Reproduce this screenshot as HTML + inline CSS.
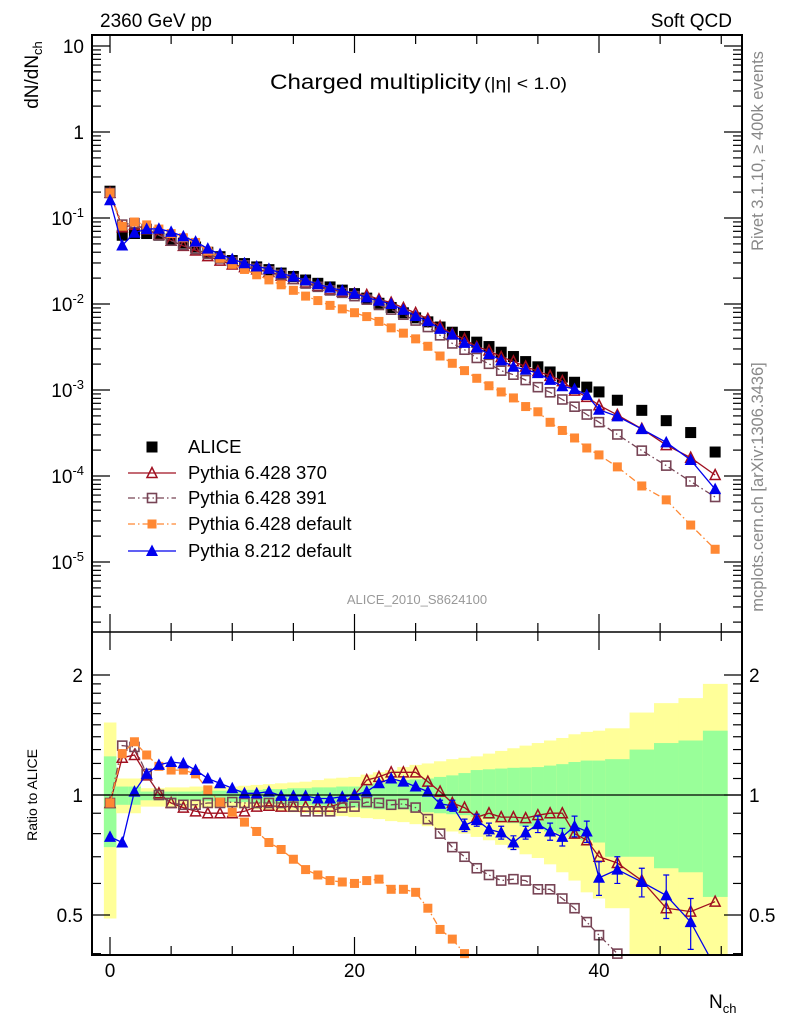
<!DOCTYPE html>
<html><head><meta charset="utf-8"><style>
html,body{margin:0;padding:0;background:#fff;width:786px;height:1024px;overflow:hidden;}
svg{display:block;font-family:"Liberation Sans",sans-serif;}
</style></head><body>
<svg id="chart" width="786" height="1024" viewBox="0 0 786 1024" xmlns="http://www.w3.org/2000/svg">
<g id="bands"></g>
<g id="marks"></g>
<g id="axes"></g>
<text x="100" y="27" font-size="19">2360 GeV pp</text>
<text x="732" y="27" font-size="19" text-anchor="end">Soft QCD</text>
<text x="270" y="89" font-size="21" textLength="211" lengthAdjust="spacingAndGlyphs">Charged multiplicity</text>
<text x="484" y="89" font-size="17" textLength="83" lengthAdjust="spacingAndGlyphs">(|η| &lt; 1.0)</text>
<text transform="translate(38,75) rotate(-90)" font-size="19" text-anchor="middle">dN/dN<tspan font-size="13" dy="4">ch</tspan></text>
<text transform="translate(37,795) rotate(-90)" font-size="14" text-anchor="middle">Ratio to ALICE</text>
<text x="709" y="1008" font-size="19">N<tspan font-size="13" dy="5">ch</tspan></text>
<text transform="translate(763,151) rotate(-90)" font-size="16.5" fill="#888" text-anchor="middle">Rivet 3.1.10, ≥ 400k events</text>
<text transform="translate(763,487) rotate(-90)" font-size="16.5" fill="#888" text-anchor="middle">mcplots.cern.ch [arXiv:1306.3436]</text>
<text x="417" y="604" font-size="13" fill="#999" text-anchor="middle">ALICE_2010_S8624100</text>
<g id="legend"></g>
</svg>
<script>
const nVals=[0,1,2,3,4,5,6,7,8,9,10,11,12,13,14,15,16,17,18,19,20,21,22,23,24,25,26,27,28,29,30,31,32,33,34,35,36,37,38,39,40,41.5,43.5,45.5,47.5,49.5];
const binWidth=[1,1,1,1,1,1,1,1,1,1,1,1,1,1,1,1,1,1,1,1,1,1,1,1,1,1,1,1,1,1,1,1,1,1,1,1,1,1,1,1,1,2,2,2,2,2];
const alice=[0.205,0.063,0.066,0.066,0.063,0.057,0.051,0.046,0.040,0.0355,0.032,0.0295,0.027,0.0251,0.0229,0.0209,0.019,0.0174,0.0158,0.0145,0.0132,0.0117,0.0102,0.0091,0.0079,0.0069,0.0062,0.0054,0.0047,0.0042,0.0036,0.0032,0.00275,0.00245,0.00214,0.00186,0.00162,0.00141,0.00123,0.00108,0.00095,0.00076,0.00058,0.00044,0.00032,0.00019];
const ratio370=[0.955,1.24,1.26,1.12,1.01,0.955,0.93,0.91,0.90,0.90,0.90,0.91,0.935,0.94,0.935,0.935,0.935,0.935,0.935,0.955,1.0,1.09,1.11,1.14,1.14,1.14,1.08,1.02,0.955,0.93,0.88,0.90,0.88,0.88,0.875,0.89,0.90,0.90,0.80,0.77,0.70,0.675,0.61,0.52,0.51,0.54];
const ratio391=[0.955,1.33,1.32,1.13,1.0,0.955,0.945,0.945,0.955,0.955,0.96,0.955,0.955,0.955,0.955,0.935,0.91,0.91,0.91,0.93,0.935,0.96,0.955,0.945,0.95,0.93,0.87,0.80,0.74,0.70,0.655,0.63,0.61,0.615,0.61,0.58,0.58,0.55,0.52,0.48,0.445,0.40,0.34,0.30,0.27,0.30];
const ratioDef=[0.955,1.27,1.36,1.26,1.18,1.155,1.155,1.13,1.03,0.96,0.905,0.855,0.81,0.76,0.73,0.69,0.65,0.63,0.61,0.605,0.60,0.61,0.615,0.58,0.58,0.57,0.52,0.46,0.435,0.40,0.38,0.35,0.345,0.33,0.30,0.30,0.26,0.24,0.225,0.196,0.185,0.168,0.132,0.12,0.084,0.074];
const ratioP8=[0.785,0.76,1.02,1.13,1.19,1.21,1.20,1.155,1.10,1.07,1.04,1.01,1.01,1.02,0.995,0.995,0.995,0.98,0.98,0.99,1.0,1.02,1.07,1.10,1.08,1.05,1.02,0.95,0.94,0.84,0.865,0.82,0.805,0.76,0.805,0.845,0.81,0.785,0.835,0.81,0.62,0.65,0.605,0.56,0.48,0.37];
const errP8=[0,0,0,0,0,0,0,0,0,0,0,0,0,0,0,0,0,0,0,0,0,0,0,0,0,0,0,0.02,0.03,0.03,0.03,0.03,0.03,0.03,0.03,0.04,0.04,0.04,0.05,0.05,0.06,0.05,0.05,0.07,0.07,0.08];
const yelUp=[1.52,1.10,1.10,1.04,1.04,1.045,1.045,1.05,1.05,1.05,1.05,1.055,1.06,1.065,1.07,1.075,1.08,1.09,1.10,1.105,1.11,1.125,1.14,1.155,1.175,1.19,1.20,1.215,1.23,1.24,1.25,1.27,1.29,1.31,1.33,1.35,1.37,1.39,1.42,1.44,1.45,1.47,1.61,1.70,1.75,1.90];
const yelDn=[0.49,0.90,0.90,0.935,0.935,0.93,0.93,0.93,0.93,0.93,0.93,0.925,0.92,0.915,0.91,0.905,0.90,0.895,0.89,0.885,0.88,0.875,0.87,0.86,0.855,0.845,0.835,0.82,0.81,0.80,0.785,0.77,0.75,0.73,0.71,0.695,0.67,0.64,0.61,0.57,0.55,0.52,0.38,0.38,0.38,0.38];
const grnUp=[1.25,1.05,1.05,1.02,1.02,1.02,1.02,1.02,1.025,1.025,1.025,1.03,1.03,1.035,1.035,1.04,1.04,1.045,1.045,1.05,1.05,1.06,1.07,1.08,1.09,1.095,1.10,1.11,1.12,1.135,1.155,1.16,1.165,1.17,1.172,1.175,1.185,1.195,1.21,1.22,1.22,1.23,1.30,1.35,1.37,1.45];
const grnDn=[0.74,0.945,0.945,0.97,0.97,0.97,0.97,0.97,0.965,0.965,0.96,0.96,0.955,0.955,0.95,0.945,0.945,0.94,0.935,0.93,0.93,0.925,0.92,0.92,0.92,0.91,0.905,0.90,0.895,0.89,0.88,0.87,0.86,0.85,0.835,0.82,0.81,0.80,0.785,0.77,0.76,0.70,0.70,0.655,0.64,0.555];
const mainTickLabels=["10","1","10^-1","10^-2","10^-3","10^-4","10^-5"];
const xTickLabels=["0","20","40"];
const ratioTickLabels=["2","1","0.5"];

const NS="http://www.w3.org/2000/svg";
const L=92,R=742,T=35,MB=632,RB=955;
const X=n=>110+n*12.225;
const Ym=v=>46+(1-Math.log10(v))*86;
const Yr=r=>795-Math.log2(r)*120;
function mk(tag,attrs,parent){const e=document.createElementNS(NS,tag);for(const k in attrs)e.setAttribute(k,attrs[k]);parent.appendChild(e);return e;}
// clip a polyline to a vertical range, returning list of point strings
function clipPoly(pts,ymin,ymax){
  const out=[];let cur=[];
  const push=p=>cur.push(p[0].toFixed(1)+','+p[1].toFixed(1));
  const inside=p=>p[1]>=ymin&&p[1]<=ymax;
  for(let i=0;i<pts.length-1;i++){
    let a=pts[i],b=pts[i+1];
    const lim=y=>y>ymax?ymax:(y<ymin?ymin:y);
    let ia=inside(a),ib=inside(b);
    if(!ia&&!ib&&((a[1]>ymax&&b[1]>ymax)||(a[1]<ymin&&b[1]<ymin))){if(cur.length>1)out.push(cur.join(' '));cur=[];continue;}
    const itp=(p,q,y)=>[p[0]+(q[0]-p[0])*(y-p[1])/(q[1]-p[1]),y];
    let A=ia?a:itp(a,b,lim(a[1])),B=ib?b:itp(a,b,lim(b[1]));
    if(cur.length===0)push(A);
    push(B);
    if(!ib){out.push(cur.join(' '));cur=[];}
  }
  if(cur.length>1)out.push(cur.join(' '));
  return out;
}
const bands=document.getElementById('bands'),marks=document.getElementById('marks'),axes=document.getElementById('axes'),leg=document.getElementById('legend');
nVals.forEach((n,i)=>{
  const x0=X(n-binWidth[i]/2),x1=Math.min(X(n+binWidth[i]/2),R);
  const yu=Math.max(Yr(yelUp[i]),MB),yd=Math.min(Yr(yelDn[i]),RB);
  const y=mk('rect',{x:x0,y:yu,width:x1-x0+0.3,height:yd-yu,fill:'#ffff99'},bands);
  
  
  const gu=Math.max(Yr(grnUp[i]),MB),gd=Math.min(Yr(grnDn[i]),RB);
  const g=mk('rect',{x:x0,y:gu,width:x1-x0+0.3,height:gd-gu,fill:'#99ff99'},bands);
  
  
});
mk('line',{x1:L,x2:R,y1:795,y2:795,stroke:'#000','stroke-width':1.3},axes);
const gm=mk('g',{},marks);
const gr=mk('g',{},marks);
function marker(type,color,x,y,par,s){
  s=s||5.5;let e;
  if(type==='sq') e=mk('rect',{x:x-s,y:y-s,width:2*s,height:2*s,fill:color},par);
  else if(type==='osq') e=mk('rect',{x:x-s+1,y:y-s+1,width:2*s-2,height:2*s-2,fill:'none',stroke:color,'stroke-width':1.6},par);
  else if(type==='fsq') e=mk('rect',{x:x-4.5,y:y-4.5,width:9,height:9,fill:color},par);
  else if(type==='tri') e=mk('polygon',{points:`${x},${y-s-1} ${x-s-0.5},${y+s-0.5} ${x+s+0.5},${y+s-0.5}`,fill:color},par);
  else e=mk('polygon',{points:`${x},${y-s} ${x-s+0.5},${y+s-1} ${x+s-0.5},${y+s-1}`,fill:'none',stroke:color,'stroke-width':1.5},par);
  return e;
}
const series=[
 {name:'pythia-6428-370',r:ratio370,color:'#a01020',dash:'',mk:'otri',label:'Pythia 6.428 370'},
 {name:'pythia-6428-391',r:ratio391,color:'#774455',dash:'7,3,1.5,3',mk:'osq',label:'Pythia 6.428 391'},
 {name:'pythia-6428-default',r:ratioDef,color:'#ff8833',dash:'7,3,1.5,3',mk:'fsq',label:'Pythia 6.428 default'},
 {name:'pythia-8212-default',r:ratioP8,color:'#0000ee',dash:'',mk:'tri',label:'Pythia 8.212 default'}
];
nVals.forEach((n,i)=>{
  const m=marker('sq','#000',X(n),Ym(alice[i]),gm,5.5);
  
  
});
series.forEach(s=>{
  clipPoly(nVals.map((n,i)=>[X(n),Ym(alice[i]*s.r[i])]),T,MB).forEach(p=>{
    const lm=mk('polyline',{points:p,fill:'none',stroke:s.color,'stroke-width':1.3,'stroke-dasharray':s.dash},gm);
    
    
  });
  clipPoly(nVals.map((n,i)=>[X(n),Yr(s.r[i])]),MB,RB).forEach(p=>{
    const lr=mk('polyline',{points:p,fill:'none',stroke:s.color,'stroke-width':1.3,'stroke-dasharray':s.dash},gr);
    
    
  });
  nVals.forEach((n,i)=>{
    const ym=Ym(alice[i]*s.r[i]);
    if(ym>=T&&ym<=MB){
      const a=marker(s.mk,s.color,X(n),ym,gm);
      
      
    }
    const yr=Yr(s.r[i]);
    if(yr<MB||yr>RB)return;
    if(s.name==='pythia-8212-default'&&errP8[i]>0){
      const y1=Yr(s.r[i]+errP8[i]),y2=Math.min(Yr(s.r[i]-errP8[i]),RB);
      const el=mk('path',{d:`M${X(n)},${y1}V${y2}M${X(n)-3},${y1}h6M${X(n)-3},${y2}h6`,stroke:s.color,'stroke-width':1.2,fill:'none'},gr);
      
      
    }
    const b=marker(s.mk,s.color,X(n),yr,gr);
    
    
  });
});
mk('rect',{x:L,y:T,width:R-L,height:RB-T,fill:'none',stroke:'#000','stroke-width':2},axes);
mk('line',{x1:L,x2:R,y1:MB,y2:MB,stroke:'#000','stroke-width':1.5},axes);
for(let d=1;d>=-6;d--){
  for(let k=1;k<10;k++){
    const v=k*Math.pow(10,d);const y=Ym(v);
    if(y<T||y>MB)continue;
    const len=k===1?18:9;
    mk('line',{x1:L,x2:L+len,y1:y,y2:y,stroke:'#000','stroke-width':1.2},axes);
    mk('line',{x1:R,x2:R-len,y1:y,y2:y,stroke:'#000','stroke-width':1.2},axes);
  }
}
mainTickLabels.forEach((lab,i)=>{
  const y=Ym(Math.pow(10,1-i));
  const t=mk('text',{x:L-8,y:y+7,'font-size':19,'text-anchor':'end'},axes);
  if(lab.indexOf('^')>0){const p=lab.split('^');t.textContent=p[0];const ts=mk('tspan',{'font-size':13,dy:-8},t);ts.textContent=p[1];}
  else t.textContent=lab;
  
  
});
[0.4,0.5,0.6,0.7,0.8,0.9,1,1.1,1.2,1.3,1.4,1.5,1.6,1.7,1.8,1.9,2].forEach(r=>{
  const y=Yr(r);const len=(r===0.5||r===1||r===2)?18:9;
  mk('line',{x1:L,x2:L+len,y1:y,y2:y,stroke:'#000','stroke-width':1.2},axes);
  mk('line',{x1:R,x2:R-len,y1:y,y2:y,stroke:'#000','stroke-width':1.2},axes);
});
ratioTickLabels.forEach(lab=>{
  const y=Yr(parseFloat(lab));
  const t=mk('text',{x:L-9,y:y+7,'font-size':19,'text-anchor':'end'},axes);t.textContent=lab;
  
  
  const t2=mk('text',{x:R+7,y:y+7,'font-size':19},axes);t2.textContent=lab;
  
  
});
for(let n=0;n<=50;n+=5){
  const x=X(n);const len=n%20===0?18:9;
  mk('line',{x1:x,x2:x,y1:RB,y2:RB-len,stroke:'#000','stroke-width':1.2},axes);
  mk('line',{x1:x,x2:x,y1:MB,y2:MB-len,stroke:'#000','stroke-width':1.2},axes);
  mk('line',{x1:x,x2:x,y1:MB,y2:MB+len,stroke:'#000','stroke-width':1.2},axes);
  mk('line',{x1:x,x2:x,y1:T,y2:T+len,stroke:'#000','stroke-width':1.2},axes);
}
xTickLabels.forEach(lab=>{
  const t=mk('text',{x:X(parseFloat(lab)),y:977,'font-size':19,'text-anchor':'middle'},axes);t.textContent=lab;
  
  
});
const ly=[447,473,498,524,551];
const la=marker('sq','#000',152,ly[0],leg,5.5);


const lt=mk('text',{x:188,y:ly[0]+6,'font-size':18.5},leg);lt.textContent='ALICE';


series.forEach((s,i)=>{
  const y=ly[i+1];
  const l=mk('line',{x1:128,x2:176,y1:y,y2:y,stroke:s.color,'stroke-width':1.3,'stroke-dasharray':s.dash},leg);
  
  
  const m=marker(s.mk,s.color,152,y,leg);
  
  
  const t=mk('text',{x:188,y:y+6,'font-size':18.5},leg);t.textContent=s.label;
  
  
});
</script>
</body></html>
